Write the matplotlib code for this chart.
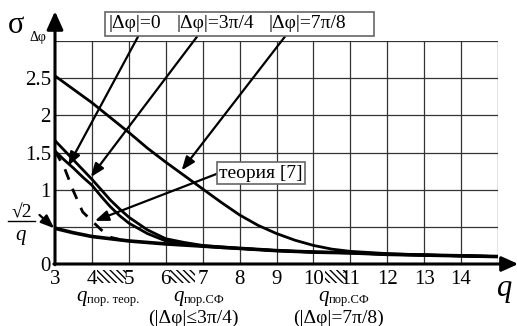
import matplotlib
matplotlib.use("Agg")
import matplotlib.pyplot as plt
from matplotlib.patches import Rectangle

plt.rcParams['font.family'] = 'serif'
plt.rcParams['font.serif'] = ['Liberation Serif', 'Times New Roman', 'DejaVu Serif']

# Значения
q_top = [3, 3.5, 4, 4.5, 5, 5.5, 6, 6.5, 7, 7.5, 8, 8.5, 9, 9.5, 10, 10.5, 11, 12, 13, 14, 15]
sigma_7pi8 = [2.53, 2.35, 2.17, 1.97, 1.77, 1.56, 1.37, 1.19, 1.01, 0.83, 0.66, 0.52,
              0.41, 0.32, 0.25, 0.20, 0.17, 0.14, 0.12, 0.11, 0.10]

q_mid = [3, 3.25, 3.5, 3.75, 4, 4.25, 4.5, 4.75, 5, 5.5, 6, 6.5, 7, 7.5, 8, 9, 10, 11, 12, 13, 14, 15]
sigma_3pi4 = [1.66, 1.53, 1.40, 1.27, 1.14, 1.00, 0.86, 0.74, 0.63, 0.46, 0.34, 0.29,
              0.25, 0.23, 0.21, 0.18, 0.16, 0.15, 0.13, 0.12, 0.11, 0.10]
sigma_0 = [1.52, 1.40, 1.29, 1.17, 1.06, 0.91, 0.77, 0.65, 0.55, 0.41, 0.31, 0.27,
           0.24, 0.22, 0.21, 0.18, 0.16, 0.15, 0.13, 0.12, 0.11, 0.10]

q_low = [3, 3.5, 4, 4.5, 5, 6, 7, 8, 9, 10, 11, 12, 13, 14, 15]
sigma_sqrt2 = [0.48, 0.42, 0.37, 0.34, 0.31, 0.27, 0.24, 0.21, 0.18, 0.16, 0.15, 0.13, 0.12, 0.11, 0.10]

q_theory = [3, 3.25, 3.5, 3.75, 4, 4.25, 4.5, 4.75]
sigma_theory = [1.52, 1.30, 0.98, 0.70, 0.58, 0.46, 0.36, 0.33]

x_ticks = [3, 4, 5, 6, 7, 8, 9, 10, 11, 12, 13, 14]
y_ticks = [0, 1, 1.5, 2, 2.5]
y_tick_labels = ['0', '1', '1.5', '2', '2.5']

W, H = 517, 326
fig = plt.figure(figsize=(W / 100, H / 100), dpi=100)
L, R, T, B = 55, 498, 41, 264
ax = fig.add_axes([L / W, 1 - B / H, (R - L) / W, (B - T) / H])
ax.set_xlim(3, 15)
ax.set_ylim(0, 3)


def px(x, y):
    return (x / W, 1 - y / H)


# сетка
for gx in range(4, 16):
    ax.plot([gx, gx], [0, 3], color='#333333', lw=0.9, zorder=1)
for gy in [0.5, 1, 1.5, 2, 2.5, 3]:
    ax.plot([3, 15], [gy, gy], color='#333333', lw=0.9, zorder=1)
for s in ax.spines.values():
    s.set_visible(False)

ax.set_xticks(x_ticks)
ax.set_yticks(y_ticks)
ax.set_yticklabels(y_tick_labels)
ax.tick_params(length=0, labelsize=15)
ax.tick_params(axis='y', pad=3)
ax.tick_params(axis='x', pad=4)

# оси со стрелками
ax.annotate('', xy=(3, 3.4), xytext=(3, -0.01), annotation_clip=False,
            arrowprops=dict(arrowstyle='-|>,head_length=1.0,head_width=0.45',
                            mutation_scale=11, lw=2.2, color='k', shrinkA=0, shrinkB=0))
ax.annotate('', xy=(15.55, 0), xytext=(2.97, 0), annotation_clip=False,
            arrowprops=dict(arrowstyle='-|>,head_length=1.0,head_width=0.45',
                            mutation_scale=10, lw=2.2, color='k', shrinkA=0, shrinkB=0))

# кривые
ax.plot(q_top, sigma_7pi8, color='k', lw=2.0, zorder=3)
ax.plot(q_mid, sigma_3pi4, color='k', lw=2.0, zorder=3)
ax.plot(q_mid, sigma_0, color='k', lw=2.0, zorder=3)
ax.plot(q_low, sigma_sqrt2, color='k', lw=2.6, zorder=3)
ax.plot(q_theory, sigma_theory, color='k', lw=2.0, dashes=(4, 3.5), zorder=3)

# заштрихованные области порогов
for x0, x1 in [(4.13, 4.92), (6.11, 6.79), (10.32, 10.9)]:
    ax.add_patch(Rectangle((x0, -0.25), x1 - x0, 0.17, facecolor='none',
                           edgecolor='k', hatch='\\\\\\\\\\', lw=0, clip_on=False))

# легенда-рамка
fig.patches.append(Rectangle(px(105, 36), (374 - 105) / W, 24 / H, transform=fig.transFigure,
                             facecolor='white', edgecolor='#666666', lw=1.2, zorder=5))
fig.text(*px(109, 24), '|Δφ|=0', fontsize=14, va='center', zorder=6)
fig.text(*px(176, 24), '|Δφ|=3π/4', fontsize=14, va='center', zorder=6)
fig.text(*px(269, 24), '|Δφ|=7π/8', fontsize=14, va='center', zorder=6)

arrow_kw = dict(arrowstyle='-|>,head_length=0.9,head_width=0.35', mutation_scale=9,
                lw=1.6, color='k', shrinkA=0, shrinkB=0)
ax.annotate('', xy=(3.36, 1.32), xytext=(5.25, 3.06), annotation_clip=False, arrowprops=arrow_kw)
ax.annotate('', xy=(3.97, 1.17), xytext=(6.85, 3.06), annotation_clip=False, arrowprops=arrow_kw)
ax.annotate('', xy=(6.43, 1.26), xytext=(9.23, 3.06), annotation_clip=False, arrowprops=arrow_kw)
ax.annotate('', xy=(4.08, 0.58), xytext=(7.42, 1.22), annotation_clip=False, arrowprops=arrow_kw)
ax.annotate('', xy=(2.98, 0.48), xytext=(2.58, 0.66), annotation_clip=False, arrowprops=arrow_kw)

ax.text(7.45, 1.22, 'теория [7]', fontsize=14, va='center', ha='left', zorder=6,
        bbox=dict(facecolor='white', edgecolor='#666666', boxstyle='square,pad=0.12', lw=1.2))

# подписи осей
fig.text(*px(8, 33), 'σ', fontsize=22, va='baseline')
fig.text(*px(29, 41), 'Δφ', fontsize=10, va='baseline')
fig.text(*px(497, 296), 'q', fontsize=22, style='italic', va='baseline')

# √2/q
fig.text(*px(22, 218), '√2', fontsize=14, ha='center', va='baseline')
fig.lines.append(plt.Line2D([8 / W, 35 / W], [1 - 221 / H, 1 - 221 / H], color='k', lw=1,
                            transform=fig.transFigure))
fig.text(*px(21, 240), 'q', fontsize=15, style='italic', ha='center', va='baseline')

# пороговые подписи
fig.text(*px(76, 301), 'q', fontsize=15, style='italic', va='baseline')
fig.text(*px(87, 303), 'пор. теор.', fontsize=9, va='baseline')
fig.text(*px(173, 301), 'q', fontsize=15, style='italic', va='baseline')
fig.text(*px(184, 303), 'пор.СФ', fontsize=9, va='baseline')
fig.text(*px(193, 323), '(|Δφ|≤3π/4)', fontsize=14, ha='center', va='baseline')
fig.text(*px(318, 301), 'q', fontsize=15, style='italic', va='baseline')
fig.text(*px(329, 303), 'пор.СФ', fontsize=9, va='baseline')
fig.text(*px(338, 323), '(|Δφ|=7π/8)', fontsize=14, ha='center', va='baseline')

fig.savefig('out.png', dpi=100)
